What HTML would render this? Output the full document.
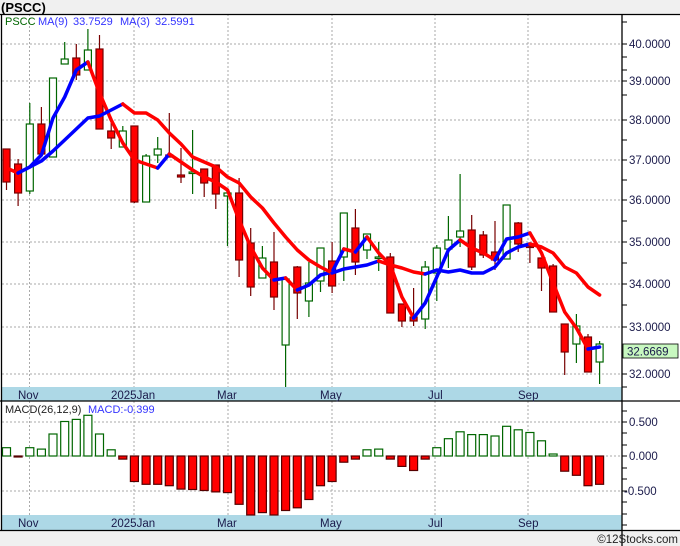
<!DOCTYPE html>
<html><head><meta charset="utf-8"><style>
html,body{margin:0;padding:0;background:#fff;}
svg{display:block;font-family:"Liberation Sans",sans-serif;}
</style></head><body>
<svg width="680" height="546" viewBox="0 0 680 546" xmlns="http://www.w3.org/2000/svg">
<rect x="0" y="0" width="680" height="546" fill="#fff"/>
<rect x="0" y="0" width="680" height="14" fill="#f0f0f0"/>
<rect x="0" y="531" width="680" height="15" fill="#f0f0f0"/>
<text x="1" y="12" font-size="13" font-weight="bold" fill="#000">(PSCC)</text>
<!-- date bands -->
<rect x="2" y="387" width="620" height="14" fill="#add8e6"/>
<rect x="2" y="515" width="620" height="15" fill="#add8e6"/>
<!-- grid -->
<g stroke="#aaa" stroke-width="1" stroke-dasharray="2,2">
<line x1="2" x2="622" y1="44" y2="44"/><line x1="2" x2="622" y1="81" y2="81"/><line x1="2" x2="622" y1="120" y2="120"/><line x1="2" x2="622" y1="160" y2="160"/><line x1="2" x2="622" y1="200" y2="200"/><line x1="2" x2="622" y1="242" y2="242"/><line x1="2" x2="622" y1="284" y2="284"/><line x1="2" x2="622" y1="327" y2="327"/><line x1="2" x2="622" y1="374" y2="374"/>
<line x1="2" x2="622" y1="422" y2="422"/><line x1="2" x2="622" y1="456" y2="456"/><line x1="2" x2="622" y1="491" y2="491"/>
<line x1="29.5" x2="29.5" y1="14" y2="387"/><line x1="134" x2="134" y1="14" y2="387"/><line x1="228" x2="228" y1="14" y2="387"/><line x1="332" x2="332" y1="14" y2="387"/><line x1="435" x2="435" y1="14" y2="387"/><line x1="528" x2="528" y1="14" y2="387"/>
<line x1="29.5" x2="29.5" y1="401" y2="515"/><line x1="134" x2="134" y1="401" y2="515"/><line x1="228" x2="228" y1="401" y2="515"/><line x1="332" x2="332" y1="401" y2="515"/><line x1="435" x2="435" y1="401" y2="515"/><line x1="528" x2="528" y1="401" y2="515"/>
</g>
<!-- candles -->
<g stroke-width="1.2">
<g stroke="#700" fill="#f00">
<line x1="6.5" x2="6.5" y1="149" y2="190"/><rect x="3" y="149" width="7" height="33"/>
<line x1="18.1" x2="18.1" y1="159" y2="206"/><rect x="14.6" y="164" width="7" height="29"/>
<line x1="41.4" x2="41.4" y1="107" y2="154"/><rect x="37.9" y="124" width="7" height="30"/>
<line x1="76.3" x2="76.3" y1="44" y2="80"/><rect x="72.8" y="58" width="7" height="17"/>
<line x1="99.5" x2="99.5" y1="35" y2="129"/><rect x="96" y="49" width="7" height="80"/>
<line x1="111.2" x2="111.2" y1="121" y2="149"/><rect x="107.7" y="131" width="7" height="7"/>
<line x1="134.4" x2="134.4" y1="126" y2="203"/><rect x="130.9" y="126" width="7" height="76"/>
<line x1="169.3" x2="169.3" y1="113" y2="157"/><rect x="165.8" y="155" width="7" height="2"/>
<line x1="181" x2="181" y1="148" y2="183"/><rect x="177.5" y="175" width="7" height="2"/>
<line x1="204.2" x2="204.2" y1="169" y2="197"/><rect x="200.7" y="169" width="7" height="14"/>
<line x1="215.8" x2="215.8" y1="165" y2="209"/><rect x="212.3" y="165" width="7" height="29"/>
<line x1="239.1" x2="239.1" y1="178" y2="277"/><rect x="235.6" y="193" width="7" height="67"/>
<line x1="250.7" x2="250.7" y1="228" y2="296"/><rect x="247.2" y="243" width="7" height="44"/>
<line x1="274" x2="274" y1="232" y2="310"/><rect x="270.5" y="262" width="7" height="35"/>
<line x1="297.3" x2="297.3" y1="266" y2="319"/><rect x="293.8" y="267" width="7" height="26"/>
<line x1="332.1" x2="332.1" y1="242" y2="293"/><rect x="328.6" y="261" width="7" height="25"/>
<line x1="355.4" x2="355.4" y1="209" y2="275"/><rect x="351.9" y="228" width="7" height="34"/>
<line x1="390.3" x2="390.3" y1="253" y2="313"/><rect x="386.8" y="257" width="7" height="56"/>
<line x1="401.9" x2="401.9" y1="304" y2="327"/><rect x="398.4" y="304" width="7" height="17"/>
<line x1="413.6" x2="413.6" y1="288" y2="326"/><rect x="410.1" y="317" width="7" height="4"/>
<line x1="471.7" x2="471.7" y1="215" y2="270"/><rect x="468.2" y="230" width="7" height="37"/>
<line x1="483.3" x2="483.3" y1="231" y2="258"/><rect x="479.8" y="235" width="7" height="20"/>
<line x1="495" x2="495" y1="221" y2="270"/><rect x="491.5" y="252" width="7" height="8"/>
<line x1="518.2" x2="518.2" y1="222" y2="252"/><rect x="514.7" y="223" width="7" height="21"/>
<line x1="529.9" x2="529.9" y1="246" y2="263"/><rect x="526.4" y="246" width="7" height="1.5"/>
<line x1="541.5" x2="541.5" y1="258" y2="291"/><rect x="538" y="258" width="7" height="10"/>
<line x1="553.1" x2="553.1" y1="264" y2="312"/><rect x="549.6" y="266" width="7" height="46"/>
<line x1="564.7" x2="564.7" y1="324" y2="375"/><rect x="561.2" y="324" width="7" height="28"/>
<line x1="588" x2="588" y1="334" y2="372"/><rect x="584.5" y="337" width="7" height="35"/>
</g>
<g stroke="#060" fill="#fff">
<line x1="29.8" x2="29.8" y1="103" y2="194"/><rect x="26.3" y="124" width="7" height="67"/>
<line x1="53" x2="53" y1="78" y2="157"/><rect x="49.5" y="78" width="7" height="79"/>
<line x1="64.7" x2="64.7" y1="42" y2="64"/><rect x="61.2" y="59" width="7" height="5"/>
<line x1="87.9" x2="87.9" y1="29" y2="70"/><rect x="84.4" y="50" width="7" height="20"/>
<line x1="122.8" x2="122.8" y1="126" y2="147"/><rect x="119.3" y="131" width="7" height="16"/>
<line x1="146.1" x2="146.1" y1="154" y2="202"/><rect x="142.6" y="156" width="7" height="46"/>
<line x1="157.7" x2="157.7" y1="137" y2="163"/><rect x="154.2" y="149" width="7" height="6"/>
<line x1="192.6" x2="192.6" y1="130" y2="194"/><rect x="189.1" y="172" width="7" height="1.5"/>
<line x1="227.5" x2="227.5" y1="193" y2="246"/><rect x="224" y="193" width="7" height="3"/>
<line x1="262.4" x2="262.4" y1="246" y2="278"/><rect x="258.9" y="258" width="7" height="20"/>
<line x1="285.6" x2="285.6" y1="279" y2="387"/><rect x="282.1" y="279" width="7" height="66"/>
<line x1="308.9" x2="308.9" y1="262" y2="317"/><rect x="305.4" y="283" width="7" height="18"/>
<line x1="320.5" x2="320.5" y1="248" y2="292"/><rect x="317" y="248" width="7" height="33"/>
<line x1="343.8" x2="343.8" y1="213" y2="281"/><rect x="340.3" y="213" width="7" height="44"/>
<line x1="367" x2="367" y1="234" y2="259"/><rect x="363.5" y="234" width="7" height="16"/>
<line x1="378.7" x2="378.7" y1="242" y2="271"/><rect x="375.2" y="257" width="7" height="1.5"/>
<line x1="425.2" x2="425.2" y1="261" y2="329"/><rect x="421.7" y="267" width="7" height="52"/>
<line x1="436.8" x2="436.8" y1="245" y2="301"/><rect x="433.3" y="248" width="7" height="25"/>
<line x1="448.4" x2="448.4" y1="216" y2="268"/><rect x="444.9" y="240" width="7" height="9"/>
<line x1="460.1" x2="460.1" y1="174" y2="247"/><rect x="456.6" y="231" width="7" height="6"/>
<line x1="506.6" x2="506.6" y1="205" y2="259"/><rect x="503.1" y="205" width="7" height="54"/>
<line x1="576.4" x2="576.4" y1="314" y2="363"/><rect x="572.9" y="326" width="7" height="18"/>
<line x1="599.6" x2="599.6" y1="341" y2="384"/><rect x="596.1" y="344" width="7" height="18"/>
</g>
</g>
<!-- MA lines -->
<g fill="none" stroke-width="3.5" stroke-linejoin="round" stroke-linecap="round">
<!-- fast -->
<polyline stroke="#f00" points="6.5,168 18.1,173"/>
<polyline stroke="#00f" points="18.1,173 29.8,167 41.4,155 53,118 64.7,97 76.3,70 87.9,62"/>
<polyline stroke="#f00" points="87.9,62 99.5,93 111.2,120 122.8,143 134.4,160 146.1,164 157.7,168"/>
<polyline stroke="#00f" points="157.7,168 169.3,154"/>
<polyline stroke="#f00" points="169.3,154 181,162 192.6,170 204.2,177 215.8,182 227.5,190 239.1,220 250.7,247 262.4,268 274,280"/>
<polyline stroke="#00f" points="274,280 285.6,278"/>
<polyline stroke="#f00" points="285.6,278 297.3,290"/>
<polyline stroke="#00f" points="297.3,290 308.9,285 320.5,275 332.1,272 343.8,249"/>
<polyline stroke="#f00" points="343.8,249 355.4,252"/>
<polyline stroke="#00f" points="355.4,252 367,237"/>
<polyline stroke="#f00" points="367,237 378.7,253 390.3,265 401.9,297 413.6,318"/>
<polyline stroke="#00f" points="413.6,318 425.2,303 436.8,277 448.4,250 460.1,240"/>
<polyline stroke="#f00" points="460.1,240 471.7,248 483.3,253 495,260"/>
<polyline stroke="#00f" points="495,260 506.6,239 518.2,237 529.9,233"/>
<polyline stroke="#f00" points="529.9,233 541.5,253 553.1,283 564.7,312 576.4,328 588,349"/>
<polyline stroke="#00f" points="588,349 599.6,347"/>
<!-- slow -->
<polyline stroke="#00f" points="18.1,173 29.8,167 41.4,161 53,151 64.7,140 76.3,129 87.9,118 99.5,116 111.2,110 122.8,104"/>
<polyline stroke="#f00" points="122.8,104 134.4,113 146.1,113 157.7,120 169.3,133 181,144 192.6,157 204.2,162 215.8,167 227.5,177 239.1,183 250.7,197 262.4,208 274,223 285.6,237 297.3,250 308.9,260 320.5,267 332.1,273"/>
<polyline stroke="#00f" points="332.1,273 343.8,269 355.4,267 367,265 378.7,261"/>
<polyline stroke="#f00" points="378.7,261 390.3,265 401.9,268 413.6,272 425.2,274"/>
<polyline stroke="#00f" points="425.2,274 436.8,270 448.4,272 460.1,270 471.7,273 483.3,273 495,267 506.6,253 518.2,247 529.9,244"/>
<polyline stroke="#f00" points="529.9,244 541.5,247 553.1,253 564.7,267 576.4,273 588,287 599.6,295"/>
</g>
<!-- legend -->
<g font-size="11">
<text x="5" y="25" fill="#060">PSCC</text>
<text x="38" y="25" fill="#3333ff">MA(9)</text>
<text x="73" y="25" fill="#3333ff">33.7529</text>
<text x="120" y="25" fill="#3333ff">MA(3)</text>
<text x="155" y="25" fill="#3333ff">32.5991</text>
<text x="5" y="413" fill="#222">MACD(26,12,9)</text>
<text x="88" y="413" fill="#3333ff">MACD:-0.399</text>
</g>
<!-- MACD bars -->
<g stroke-width="1.2">
<g stroke="#060" fill="#fff">
<rect x="2.5" y="447.7" width="8" height="8.3"/>
<rect x="25.8" y="447.7" width="8" height="8.3"/>
<rect x="37.4" y="449.1" width="8" height="6.9"/>
<rect x="49" y="434" width="8" height="22"/>
<rect x="60.7" y="421.5" width="8" height="34.5"/>
<rect x="72.3" y="419.4" width="8" height="36.6"/>
<rect x="83.9" y="415.3" width="8" height="40.7"/>
<rect x="95.5" y="434" width="8" height="22"/>
<rect x="107.2" y="449.8" width="8" height="6.2"/>
<rect x="363" y="449.8" width="8" height="6.2"/>
<rect x="374.7" y="449.1" width="8" height="6.9"/>
<rect x="432.8" y="447.7" width="8" height="8.3"/>
<rect x="444.4" y="438.7" width="8" height="17.3"/>
<rect x="456.1" y="431.8" width="8" height="24.2"/>
<rect x="467.7" y="434.6" width="8" height="21.4"/>
<rect x="479.3" y="434.6" width="8" height="21.4"/>
<rect x="491" y="436" width="8" height="20"/>
<rect x="502.6" y="426.3" width="8" height="29.7"/>
<rect x="514.2" y="429.8" width="8" height="26.2"/>
<rect x="525.9" y="432.5" width="8" height="23.5"/>
<rect x="537.5" y="440.8" width="8" height="15.2"/>
<rect x="549.1" y="454" width="8" height="2"/>
</g>
<g stroke="#500" fill="#f00">
<rect x="14.1" y="456" width="8" height="1" fill="#700"/>
<rect x="118.8" y="456" width="8" height="3.1"/>
<rect x="130.4" y="456" width="8" height="25.5"/>
<rect x="142.1" y="456" width="8" height="28.3"/>
<rect x="153.7" y="456" width="8" height="28.3"/>
<rect x="165.3" y="456" width="8" height="29.7"/>
<rect x="177" y="456" width="8" height="33.1"/>
<rect x="188.6" y="456" width="8" height="33.5"/>
<rect x="200.2" y="456" width="8" height="34.5"/>
<rect x="211.8" y="456" width="8" height="35.9"/>
<rect x="223.5" y="456" width="8" height="36.6"/>
<rect x="235.1" y="456" width="8" height="48.3"/>
<rect x="246.7" y="456" width="8" height="59"/>
<rect x="258.4" y="456" width="8" height="56.6"/>
<rect x="270" y="456" width="8" height="59"/>
<rect x="281.6" y="456" width="8" height="54.5"/>
<rect x="293.3" y="456" width="8" height="51.8"/>
<rect x="304.9" y="456" width="8" height="43.5"/>
<rect x="316.5" y="456" width="8" height="29.7"/>
<rect x="328.1" y="456" width="8" height="25.5"/>
<rect x="339.8" y="456" width="8" height="6.2"/>
<rect x="351.4" y="456" width="8" height="3.1"/>
<rect x="386.3" y="456" width="8" height="3.1"/>
<rect x="397.9" y="456" width="8" height="10.4"/>
<rect x="409.6" y="456" width="8" height="14.5"/>
<rect x="421.2" y="456" width="8" height="3.1"/>
<rect x="560.7" y="456" width="8" height="15.2"/>
<rect x="572.4" y="456" width="8" height="19.3"/>
<rect x="584" y="456" width="8" height="29.7"/>
<rect x="595.6" y="456" width="8" height="28.3"/>
</g>
</g>
<!-- frame -->
<g stroke="#000" stroke-width="1.3" fill="none">
<line x1="0" x2="680" y1="14.5" y2="14.5"/>
<line x1="1.5" x2="1.5" y1="14" y2="530"/>
<line x1="622" x2="622" y1="14" y2="546"/>
<line x1="0" x2="680" y1="401" y2="401"/>
<line x1="0" x2="680" y1="530.5" y2="530.5"/>
</g>
<g stroke="#000" stroke-width="1">
<line x1="622" x2="627" y1="22" y2="22"/><line x1="622" x2="627" y1="44" y2="44"/><line x1="622" x2="627" y1="57" y2="57"/><line x1="622" x2="627" y1="70" y2="70"/><line x1="622" x2="627" y1="81" y2="81"/><line x1="622" x2="627" y1="95" y2="95"/><line x1="622" x2="627" y1="120" y2="120"/><line x1="622" x2="627" y1="140" y2="140"/><line x1="622" x2="627" y1="160" y2="160"/><line x1="622" x2="627" y1="180" y2="180"/><line x1="622" x2="627" y1="200" y2="200"/><line x1="622" x2="627" y1="221" y2="221"/><line x1="622" x2="627" y1="242" y2="242"/><line x1="622" x2="627" y1="263" y2="263"/><line x1="622" x2="627" y1="284" y2="284"/><line x1="622" x2="627" y1="305" y2="305"/><line x1="622" x2="627" y1="327" y2="327"/><line x1="622" x2="627" y1="374" y2="374"/><line x1="622" x2="627" y1="387" y2="387"/>
<line x1="622" x2="627" y1="411" y2="411"/><line x1="622" x2="627" y1="422" y2="422"/><line x1="622" x2="627" y1="433" y2="433"/><line x1="622" x2="627" y1="445" y2="445"/><line x1="622" x2="627" y1="456" y2="456"/><line x1="622" x2="627" y1="468" y2="468"/><line x1="622" x2="627" y1="479" y2="479"/><line x1="622" x2="627" y1="491" y2="491"/><line x1="622" x2="627" y1="502" y2="502"/><line x1="622" x2="627" y1="514" y2="514"/><line x1="622" x2="627" y1="525" y2="525"/>
</g>
<g font-size="11.5" fill="#1a1a4a">
<text x="629" y="48">40.0000</text>
<text x="629" y="85">39.0000</text>
<text x="629" y="124">38.0000</text>
<text x="629" y="164">37.0000</text>
<text x="629" y="204">36.0000</text>
<text x="629" y="246">35.0000</text>
<text x="629" y="288">34.0000</text>
<text x="629" y="331">33.0000</text>
<text x="629" y="378">32.0000</text>
<text x="629" y="426">0.500</text>
<text x="629" y="460">0.000</text>
<text x="624" y="495">-0.500</text>
</g>
<rect x="623" y="344" width="55" height="14" fill="#c8f8c0" stroke="#000" stroke-width="0.8"/>
<text x="627" y="355.5" font-size="11.5" fill="#1a1a4a">32.6669</text>
<g font-size="11.5" fill="#1a1a4a">
<text x="18" y="399">Nov</text><text x="111" y="399">2025Jan</text><text x="217" y="399">Mar</text><text x="320" y="399">May</text><text x="428" y="399">Jul</text><text x="518" y="399">Sep</text>
<text x="18" y="527">Nov</text><text x="111" y="527">2025Jan</text><text x="217" y="527">Mar</text><text x="320" y="527">May</text><text x="428" y="527">Jul</text><text x="518" y="527">Sep</text>
</g>
<text x="678" y="543" font-size="11.5" fill="#222" text-anchor="end">©12Stocks.com</text>
</svg>
</body></html>
